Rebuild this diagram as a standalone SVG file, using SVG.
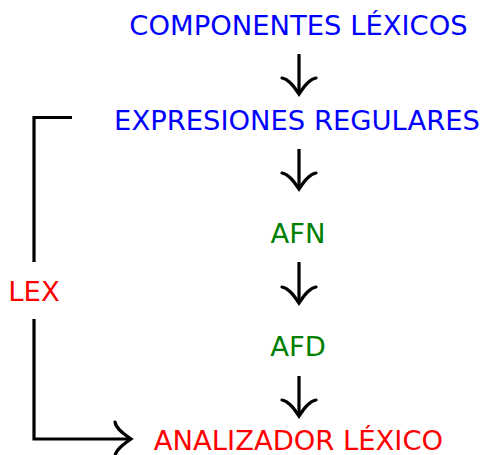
<svg xmlns="http://www.w3.org/2000/svg" width="482" height="455" viewBox="0 0 482 455">
<defs>
<style>
text{font-family:"DejaVu Sans","Liberation Sans",sans-serif;font-size:27.4px;text-anchor:middle}
.blue{fill:#0000ff}.green{fill:#008000}.red{fill:#ff0000}
.c{fill:none;stroke:#000;stroke-width:3.2}
</style>
<marker id="ah" markerUnits="userSpaceOnUse" markerWidth="40" markerHeight="40" viewBox="-20 -20 40 40" refX="0" refY="0" orient="auto" overflow="visible">
<path d="M-16,-17 C-15,-10 -6,-4 0,0 C-6,4 -15,10 -16,17" fill="none" stroke="#000" stroke-width="3.2" stroke-linecap="round"/>
</marker>
</defs>
<rect width="482" height="455" fill="#fff"/>
<g id="n1"><text class="blue" x="298.5" y="35">COMPONENTES LÉXICOS</text></g>
<g id="n2"><text class="blue" x="297" y="130">EXPRESIONES REGULARES</text></g>
<g id="n3"><text class="green" x="298" y="243">AFN</text></g>
<g id="n4"><text class="green" x="298" y="356">AFD</text></g>
<g id="n5"><text class="red" x="298.5" y="450">ANALIZADOR LÉXICO</text></g>
<g id="lex"><text class="red" x="34" y="301">LEX</text></g>
<g id="connectors">
<path class="c" d="M299,54 V94" marker-end="url(#ah)"/>
<path class="c" d="M299,149 V189" marker-end="url(#ah)"/>
<path class="c" d="M299,262 V303" marker-end="url(#ah)"/>
<path class="c" d="M299,376 V416" marker-end="url(#ah)"/>
<path class="c" d="M72,117.5 H34 V262"/>
<path class="c" d="M34,319 V439 H131" marker-end="url(#ah)"/>
</g>
</svg>
